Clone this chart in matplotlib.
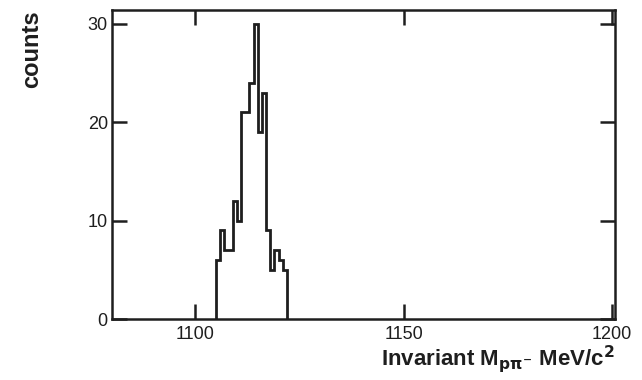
import numpy as np
import matplotlib
matplotlib.use("Agg")
import matplotlib.pyplot as plt

# bin edges (MeV/c^2) and counts
bin_edges = np.arange(1105, 1123, 1)
counts = [6, 9, 7, 7, 12, 10, 21, 21, 24, 30, 19, 23, 9, 5, 7, 6, 5]

x_ticks = [1100, 1150, 1200]
y_ticks = [0, 10, 20, 30]

INK = "#1e1e1e"

plt.rcParams.update({
    "font.family": ["Liberation Sans", "DejaVu Sans"],
    "axes.linewidth": 1.8,
    "axes.edgecolor": INK,
})

fig = plt.figure(figsize=(6.42, 3.80), dpi=100)
ax = fig.add_axes([0.1745, 0.1605, 0.7835, 0.8132])

ax.stairs(counts, bin_edges, color=INK, lw=2.0, baseline=0)

ax.set_xlim(1080, 1200.8)
ax.set_ylim(0, 31.4)
ax.set_xticks(x_ticks)
ax.set_yticks(y_ticks)
ax.tick_params(direction="in", length=11, width=1.8, colors=INK,
               top=True, right=True, labelsize=13, pad=3)
ax.tick_params(axis="x", pad=5)

ax.set_xlabel(r"Invariant M$_{\mathbf{p\pi^{-}}}$ MeV/c$^{\mathbf{2}}$",
              fontsize=16, fontweight="bold", ha="right", x=1.0,
              labelpad=0, color=INK)
ax.set_ylabel("counts", fontsize=17, fontweight="bold", ha="right", y=1.0,
              labelpad=32, color=INK)

fig.savefig("out.png", dpi=100)
